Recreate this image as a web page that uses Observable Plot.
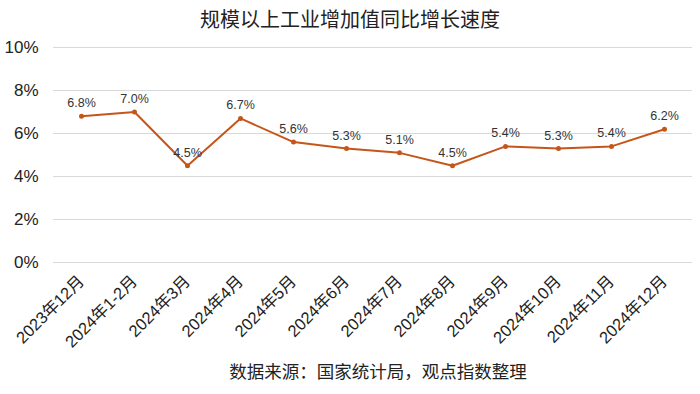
<!DOCTYPE html>
<html>
<head>
<meta charset="utf-8">
<script src="https://cdn.jsdelivr.net/npm/d3@7"></script>
<script src="https://cdn.jsdelivr.net/npm/@observablehq/plot@0.6"></script>
<style>
  body { margin: 0; background: #fff; font-family: "Liberation Sans", Arial, "Noto Sans CJK SC", sans-serif; }
  #wrap { width: 700px; height: 394px; position: relative; overflow: hidden; }
  #title { height: 40px; line-height: 40px; text-align: center; font-size: 20px; color: #222; font-family: "Liberation Sans", "Noto Sans CJK SC", sans-serif; }
  #caption { height: 34px; line-height: 34px; text-align: center; font-size: 17.5px; color: #222; padding-left: 56px; font-family: "Liberation Sans", "Noto Sans CJK SC", sans-serif; }
  svg { overflow: visible; display: block; }
</style>
</head>
<body>
<div id="wrap">
  <div id="title">规模以上工业增加值同比增长速度</div>
  <div id="chart"></div>
  <div id="caption">数据来源：国家统计局，观点指数整理</div>
</div>
<script>
const months = ["2023年12月","2024年1-2月","2024年3月","2024年4月","2024年5月","2024年6月","2024年7月","2024年8月","2024年9月","2024年10月","2024年11月","2024年12月"];
const growth = [6.8, 7.0, 4.5, 6.7, 5.6, 5.3, 5.1, 4.5, 5.4, 5.3, 5.4, 6.2];
const yTicks = [0, 2, 4, 6, 8, 10];

const data = months.map((m, i) => ({month: m, value: growth[i]}));
const color = "#C5561B";

const chart = Plot.plot({
  width: 700,
  height: 315,
  marginTop: 7,
  marginBottom: 93,
  marginLeft: 53,
  marginRight: 8,
  style: {fontFamily: '"Liberation Sans", Arial, "Noto Sans CJK SC", sans-serif', color: "#222", background: "transparent"},
  x: {type: "point", domain: months, padding: 0.5, label: null},
  y: {domain: [0, 10], label: null},
  marks: [
    Plot.gridY(yTicks, {stroke: "#d9d9d9", strokeOpacity: 1, strokeWidth: 1}),
    Plot.axisY(yTicks, {tickSize: 0, tickPadding: 15, tickFormat: d => d + "%", fontSize: 17, label: null, fill: "#222"}),
    Plot.axisX({tickSize: 0, tickPadding: 16, tickRotate: -45, fontSize: 16.5, label: null, fill: "#222"}),
    Plot.line(data, {x: "month", y: "value", stroke: color, strokeWidth: 2}),
    Plot.dot(data, {x: "month", y: "value", r: 2.5, fill: color}),
    Plot.text(data, {x: "month", y: "value", text: d => d.value.toFixed(1) + "%", dy: -13, fontSize: 12.5, fill: "#333"})
  ]
});
document.getElementById("chart").appendChild(chart);
</script>
</body>
</html>
